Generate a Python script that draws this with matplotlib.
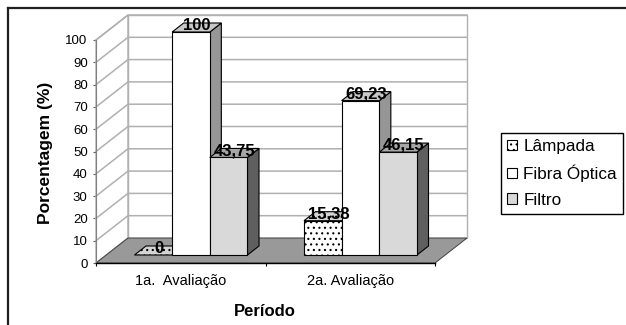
import numpy as np
import matplotlib
matplotlib.use("Agg")
import matplotlib.pyplot as plt
from matplotlib.patches import Polygon, Patch
from matplotlib.lines import Line2D

plt.rcParams['font.family'] = ['Liberation Sans', 'DejaVu Sans']
plt.rcParams['hatch.linewidth'] = 0.8

# data
categories = ['1a.  Avaliação', '2a. Avaliação']
series_names = ['Lâmpada', 'Fibra Óptica', 'Filtro']
lampada = [0, 15.38]
fibra = [100, 69.23]
filtro = [43.75, 46.15]
y_ticks = list(range(0, 101, 10))

# face colours per series: front, top, side, hatch
styles = [
    dict(front='white', top='#d4d4d4', side='#a0a0a0', hatch='...'),
    dict(front='white', top='#c8c8c8', side='#969696', hatch=None),
    dict(front='#d9d9d9', top='#a6a6a6', side='#5f5f5f', hatch=None),
]

W, H = 626, 325
fig = plt.figure(figsize=(W / 100, H / 100), dpi=100)

# front plane of the plot in pixels
x_left, x_right, y_bottom, y_top = 96, 435, 263, 40
ax = fig.add_axes([x_left / W, 1 - y_bottom / H, (x_right - x_left) / W, (y_bottom - y_top) / H])
ax.set_xlim(0, len(categories))
ax.set_ylim(0, 100)
ax.patch.set_visible(False)

# oblique depth of the whole box, in data units
px_x = (x_right - x_left) / len(categories)
px_y = (y_bottom - y_top) / 100
DX = 32 / px_x
DY = 25 / px_y

grid_col = '#b0b0b0'

def poly(pts, **kw):
    p = Polygon(pts, closed=True, clip_on=False, **kw)
    ax.add_patch(p)
    return p

n = len(categories)
# walls
poly([(0, 0), (DX, DY), (DX, 100 + DY), (0, 100)], facecolor='white', edgecolor=grid_col, lw=1.0, zorder=1)
poly([(DX, DY), (n + DX, DY), (n + DX, 100 + DY), (DX, 100 + DY)], facecolor='white', edgecolor=grid_col, lw=1.0, zorder=1)
for v in y_ticks[1:]:
    ax.plot([0, DX, n + DX], [v, v + DY, v + DY], color=grid_col, lw=1.1, clip_on=False, zorder=2)

# floor
poly([(0, 0), (n, 0), (n + DX, DY), (DX, DY)], facecolor='#999999', edgecolor='#404040', lw=0.7, zorder=3)

# bars
values = [lampada, fibra, filtro]
bw = 2 / 9
f0, f1 = 0.32, 0.68
fx, fy = f0 * DX, f0 * DY
bx, by = f1 * DX, f1 * DY
labels = []
for i in range(n):
    c = i + 0.5
    for j, vals in enumerate(values):
        v = vals[i]
        st = styles[j]
        x0 = c + (j - 1.5) * bw
        x1 = x0 + bw
        z = 5 + i * 3 + j * 0.1
        kw = dict(edgecolor='black', lw=0.8, hatch=st['hatch'])
        poly([(x1 + fx, fy), (x1 + bx, by), (x1 + bx, v + by), (x1 + fx, v + fy)],
             facecolor=st['side'], zorder=z, **kw)
        if v > 0:
            poly([(x0 + fx, fy), (x1 + fx, fy), (x1 + fx, v + fy), (x0 + fx, v + fy)],
                 facecolor=st['front'], zorder=z + 0.01, **kw)
        poly([(x0 + fx, v + fy), (x1 + fx, v + fy), (x1 + bx, v + by), (x0 + bx, v + by)],
             facecolor=st['top'], zorder=z + 0.02, **kw)
        labels.append((x0 + bw / 2 + 0.5 * DX, v + 0.5 * DY + 1.0, v))

for x, y, v in labels:
    ax.text(x, y, f"{v:g}".replace('.', ','), ha='center', va='center',
            fontsize=12, fontweight='bold', color='black', zorder=20, clip_on=False)

# axes
for s in ['top', 'right']:
    ax.spines[s].set_visible(False)
ax.spines['left'].set_color('#808080')
ax.spines['left'].set_zorder(4)
ax.spines['bottom'].set_color('black')
ax.spines['bottom'].set_linewidth(1.0)
ax.spines['bottom'].set_zorder(30)
ax.set_yticks(y_ticks)
ax.tick_params(axis='y', direction='out', length=2.5, width=0.8, color='#606060', labelsize=9.5, pad=3.5)
ax.set_xticks(range(n + 1))
ax.set_xticklabels([])
ax.tick_params(axis='x', which='major', direction='out', length=2.5, width=0.8, color='black')
ax.set_xticks([i + 0.5 for i in range(n)], minor=True)
ax.set_xticklabels(categories, minor=True, fontsize=10.5)
ax.tick_params(axis='x', which='minor', length=0, pad=8)

fig.text(265 / W, 1 - 311 / H, 'Período', ha='center', va='center', fontsize=12, fontweight='bold')
fig.text(46 / W, 1 - 153 / H, 'Porcentagem (%)', ha='center', va='center', rotation=90,
         fontsize=12.5, fontweight='bold')

# legend
handles = [Patch(facecolor=styles[k]['front'], edgecolor='black', lw=0.8, hatch=styles[k]['hatch'])
           for k in range(3)]
leg = fig.legend(handles, series_names, loc='upper left', bbox_to_anchor=(501 / W, 1 - 133 / H),
                 frameon=True, fancybox=False, edgecolor='black', framealpha=1, borderaxespad=0,
                 borderpad=0.35, handlelength=0.6, handleheight=0.6, handletextpad=0.35,
                 labelspacing=0.62, prop={'size': 12.3})
leg.get_frame().set_linewidth(1.0)

# outer chart frame
fig.add_artist(Line2D([8 / W, 8 / W], [0, 1 - 8 / H], color='#202020', lw=1.6))
fig.add_artist(Line2D([8 / W, 1], [1 - 8 / H, 1 - 8 / H], color='#202020', lw=1.6))

fig.savefig('out.png', dpi=100)
